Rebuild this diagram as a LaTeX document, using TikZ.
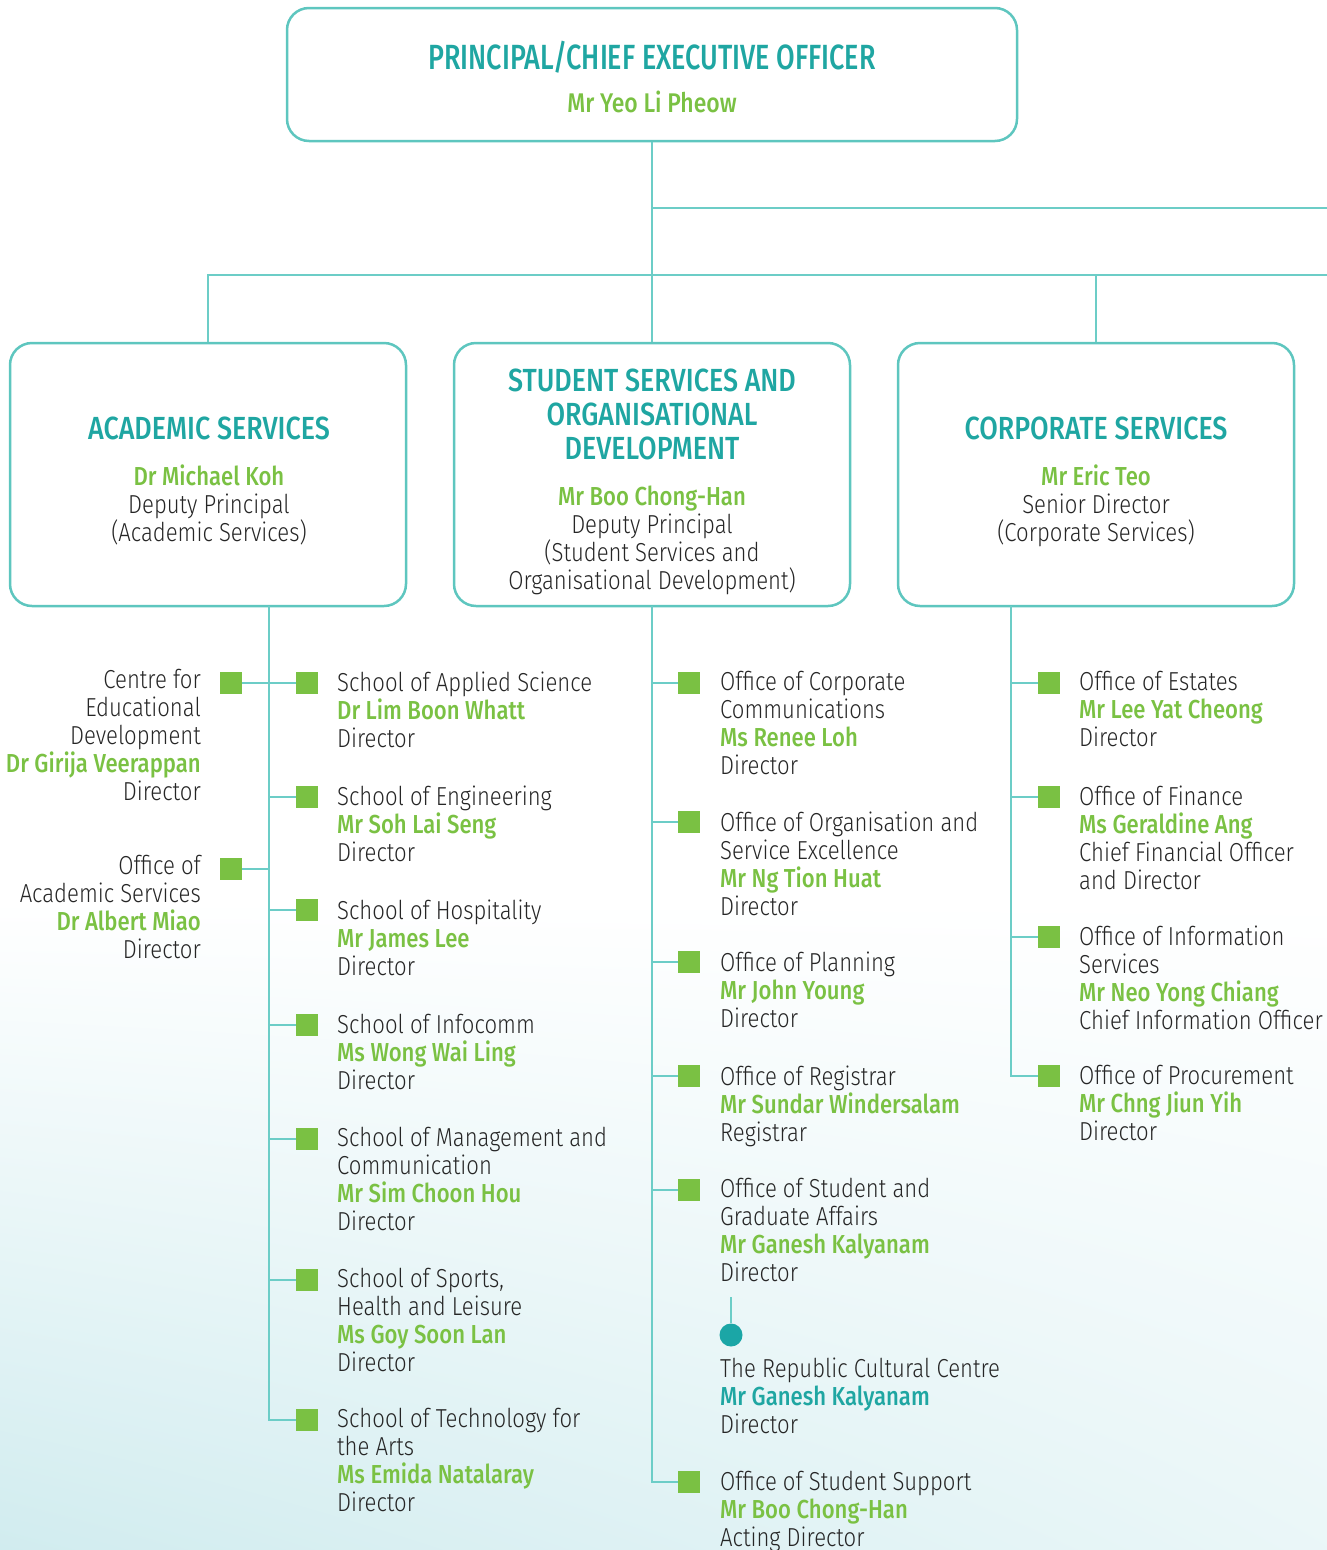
\documentclass[tikz,border=0pt]{standalone}
\usepackage{fontspec}
\usetikzlibrary{shadings}
\IfFontExistsTF{Fira Sans Light}{%
  \setmainfont{Fira Sans Light}[FakeStretch=0.85]}{%
  \setmainfont{Fira Sans}[FakeStretch=0.85]}
\IfFontExistsTF{Fira Sans Medium}{%
  \newfontfamily\namefont{Fira Sans Medium}[FakeStretch=0.85]%
  \newfontfamily\titlefont{Fira Sans Medium}[FakeStretch=0.84]%
  \newfontfamily\toptitlefont{Fira Sans Medium}[FakeStretch=0.77]}{%
  \newfontfamily\namefont{Fira Sans}[FakeStretch=0.85]%
  \newfontfamily\titlefont{Fira Sans}[FakeStretch=0.84]%
  \newfontfamily\toptitlefont{Fira Sans}[FakeStretch=0.77]}
\definecolor{tealtxt}{HTML}{1FA6A2}
\definecolor{tealline}{HTML}{6CCDC7}
\definecolor{boxline}{HTML}{5EC6BF}
\definecolor{grn}{HTML}{7AC143}
\definecolor{txt}{HTML}{262626}
\definecolor{dotc}{HTML}{1BA6A6}
\definecolor{bgteal}{HTML}{D1ECEF}
\newcommand\gname[1]{{\namefont\color{grn}#1}}
\newcommand\tname[1]{{\namefont\color{tealtxt}#1}}
\tikzset{
  conn/.style={draw=tealline, line width=2pt},
  thinconn/.style={draw=tealline, line width=1.5pt},
  unitbox/.style={draw=boxline, line width=2.5pt, rounded corners=22pt, fill=white, inner sep=0pt},
  sq/.style={fill=grn, minimum size=22pt, inner sep=0pt, draw=none},
  blk/.style={anchor=north west, align=left, inner sep=0pt, text=txt,
    font=\fontsize{26}{28}\selectfont, execute at begin node=\strut},
  blkr/.style={blk, anchor=north east, align=right},
  blkc/.style={blk, anchor=north, align=center},
  ttl/.style={anchor=north, align=center, inner sep=0pt, text=tealtxt,
    font=\titlefont\fontsize{32}{34}\selectfont, execute at begin node=\strut},
  dotnode/.style={circle, fill=dotc, minimum size=23pt, inner sep=0pt},
}
\begin{document}
\begin{tikzpicture}[x=1pt, y=-1pt]
\useasboundingbox (0,0) rectangle (1327,1550);
\shade[lower left=bgteal, lower right=bgteal!45!white, upper left=white, upper right=white] (0,900) rectangle (1327,1550);

% ---------- boxes ----------
\node[unitbox, minimum width=730pt, minimum height=133pt] (ceo) at (652,74.5) {};
\node[unitbox, minimum width=396pt, minimum height=263pt] (acad) at (208,474.5) {};
\node[unitbox, minimum width=396pt, minimum height=263pt] (ssod) at (652,474.5) {};
\node[unitbox, minimum width=396pt, minimum height=263pt] (corp) at (1096,474.5) {};

\node[anchor=base, inner sep=0pt, text=tealtxt, font=\toptitlefont\fontsize{35}{38}\selectfont] (ceot) at (652,69.5) {PRINCIPAL/CHIEF EXECUTIVE OFFICER};
\node[anchor=base, inner sep=0pt, font=\fontsize{27}{28}\selectfont] (ceon) at (652,112) {\gname{Mr Yeo Li Pheow}};

\node[ttl] (acadt) at (209,415.2) {ACADEMIC SERVICES};
\node[blkc] (acadb) at (209,464.4) {\gname{Dr Michael Koh}\\Deputy Principal\\(Academic Services)};

\node[ttl] (ssodt) at (652,369) {STUDENT SERVICES AND\\ORGANISATIONAL\\DEVELOPMENT};
\node[blkc] (ssodb) at (652,485.4) {\gname{Mr Boo Chong-Han}\\Deputy Principal\\(Student Services and\\Organisational Development)};

\node[ttl] (corpt) at (1096,415.2) {CORPORATE SERVICES};
\node[blkc] (corpb) at (1096,464.4) {\gname{Mr Eric Teo}\\Senior Director\\(Corporate Services)};

% ---------- top connectors ----------
\coordinate (j1) at (652,208);
\coordinate (j1r) at (1327,208);
\coordinate (j2r) at (1327,275);
\draw[conn] (ceo.south) -- (ssod.north);
\draw[conn] (j1) -- (j1r);
\draw[conn] (acad.north) |- (j2r);
\draw[conn] (corp.north) -- (corp.north |- j2r);

% ---------- academic column ----------
\coordinate (a0) at (269,606);
\node[sq] (sqA1) at (307,683) {};
\node[sq] (sqA2) at (307,797) {};
\node[sq] (sqA3) at (307,910) {};
\node[sq] (sqA4) at (307,1025) {};
\node[sq] (sqA5) at (307,1139) {};
\node[sq] (sqA6) at (307,1280) {};
\node[sq] (sqA7) at (307,1420) {};
\node[sq] (sqL1) at (231,683) {};
\node[sq] (sqL2) at (231,869) {};
\draw[conn] (a0) |- (sqA7.west);
\draw[conn] (sqL1.east) -- (sqA1.west);
\foreach \n in {A2,A3,A4,A5,A6} \draw[conn] (sq\n.west) -- (sq\n.west -| a0);
\draw[conn] (sqL2.east) -- (sqL2.east -| a0);

\node[blk] (tA1) at (337,671.4) {School of Applied Science\\\gname{Dr Lim Boon Whatt}\\Director};
\node[blk] (tA2) at (337,785.4) {School of Engineering\\\gname{Mr Soh Lai Seng}\\Director};
\node[blk] (tA3) at (337,899.4) {School of Hospitality\\\gname{Mr James Lee}\\Director};
\node[blk] (tA4) at (337,1014.4) {School of Infocomm\\\gname{Ms Wong Wai Ling}\\Director};
\node[blk] (tA5) at (337,1127.4) {School of Management and\\Communication\\\gname{Mr Sim Choon Hou}\\Director};
\node[blk] (tA6) at (337,1268.4) {School of Sports,\\Health and Leisure\\\gname{Ms Goy Soon Lan}\\Director};
\node[blk] (tA7) at (337,1408.4) {School of Technology for\\the Arts\\\gname{Ms Emida Natalaray}\\Director};
\node[blkr] (tL1) at (201,669.4) {Centre for\\Educational\\Development\\\gname{Dr Girija Veerappan}\\Director};
\node[blkr] (tL2) at (201,855.4) {Office of\\Academic Services\\\gname{Dr Albert Miao}\\Director};

% ---------- student services column ----------
\coordinate (m0) at (652,606);
\node[sq] (sqM1) at (689,683) {};
\node[sq] (sqM2) at (689,822) {};
\node[sq] (sqM3) at (689,962) {};
\node[sq] (sqM4) at (689,1076) {};
\node[sq] (sqM5) at (689,1190) {};
\node[sq] (sqM6) at (689,1482) {};
\draw[conn] (m0) |- (sqM6.west);
\foreach \n in {M1,M2,M3,M4,M5} \draw[conn] (sq\n.west) -- (sq\n.west -| m0);

\node[blk] (tM1) at (720,671.4) {Office of Corporate\\Communications\\\gname{Ms Renee Loh}\\Director};
\node[blk] (tM2) at (720,811.4) {Office of Organisation and\\Service Excellence\\\gname{Mr Ng Tion Huat}\\Director};
\node[blk] (tM3) at (720,951.4) {Office of Planning\\\gname{Mr John Young}\\Director};
\node[blk] (tM4) at (720,1065.4) {Office of Registrar\\\gname{Mr Sundar Windersalam}\\Registrar};
\node[blk] (tM5) at (720,1178.4) {Office of Student and\\Graduate Affairs\\\gname{Mr Ganesh Kalyanam}\\Director};
\coordinate (dtop) at (731,1297);
\node[dotnode] (rcc) at (731,1335) {};
\draw[thinconn] (dtop) -- (rcc.north);
\node[blk] (tRCC) at (720,1357.4) {The Republic Cultural Centre\\\tname{Mr Ganesh Kalyanam}\\Director};
\node[blk] (tM6) at (720,1471.4) {Office of Student Support\\\gname{Mr Boo Chong-Han}\\Acting Director};

% ---------- corporate column ----------
\coordinate (r0) at (1011,606);
\node[sq] (sqR1) at (1049,683) {};
\node[sq] (sqR2) at (1049,797) {};
\node[sq] (sqR3) at (1049,937) {};
\node[sq] (sqR4) at (1049,1076) {};
\draw[conn] (r0) |- (sqR4.west);
\foreach \n in {R1,R2,R3} \draw[conn] (sq\n.west) -- (sq\n.west -| r0);

\node[blk] (tR1) at (1079,671.4) {Office of Estates\\\gname{Mr Lee Yat Cheong}\\Director};
\node[blk] (tR2) at (1079,785.4) {Office of Finance\\\gname{Ms Geraldine Ang}\\Chief Financial Officer\\and Director};
\node[blk] (tR3) at (1079,925.4) {Office of Information\\Services\\\gname{Mr Neo Yong Chiang}\\Chief Information Officer};
\node[blk] (tR4) at (1079,1065.4) {Office of Procurement\\\gname{Mr Chng Jiun Yih}\\Director};
\end{tikzpicture}
\end{document}
